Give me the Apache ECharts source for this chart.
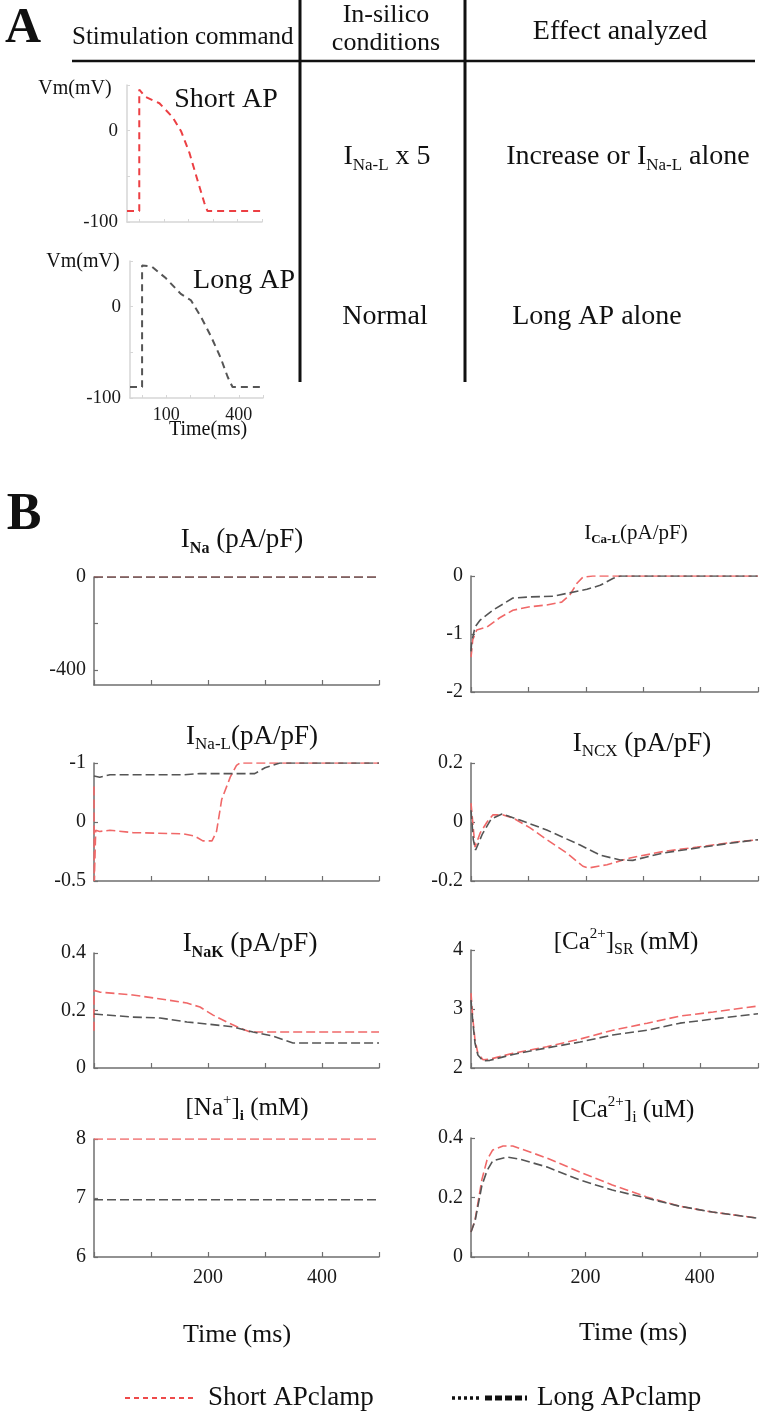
<!DOCTYPE html>
<html><head><meta charset="utf-8">
<script src="https://cdn.jsdelivr.net/npm/echarts@6/dist/echarts.min.js"></script>
<style>html,body{margin:0;padding:0;background:#fff}#c{width:760px;height:1415px}</style>
</head><body><div id="c"></div>
<script>
// ---------- Panel A : clamp commands (time ms, Vm mV) ----------
const apShort = [[-50,-88],[0,-88],[0,45],[25,37],[82,30],[135,15],[171,-1],[204,-24],[237,-54],[265,-79],[278,-88],[500,-88]];
const apLong  = [[-50,-88],[0,-88],[0,45],[40,44],[99,31],[160,14],[202,7],[243,-11],[284,-32],[325,-56],[354,-77],[374,-88],[500,-88]];
const apTimeTicks = [0,100,200,300,400,500];
const apTimeLabels = [100,400];
const apVmLabels = [0,-100];

// ---------- Panel B : time courses (time ms, value) ----------
const inaShort = [[0,0],[500,0]];
const inaLong  = [[0,0],[500,0]];
// I_Na-L plotted on internal scale -0.5..0.5, tick labels as printed
const inalShort = [[0,0.3],[0.5,-0.5],[3,-0.07],[10,-0.08],[28,-0.07],[68,-0.09],[156,-0.1],[177,-0.12],[191,-0.16],[207,-0.16],[215,-0.08],[224,0.19],[239,0.38],[250,0.48],[256,0.5],[500,0.5]];
const inalLong  = [[0,0.39],[10,0.38],[28,0.4],[156,0.4],[186,0.41],[282,0.41],[300,0.46],[326,0.5],[500,0.5]];
const inalTickLabels = ['-0.5','0','-1'];
const icalShort = [[0,-1.4],[1,-1.31],[3,-1.1],[10,-0.93],[28,-0.88],[50,-0.72],[73,-0.59],[103,-0.53],[132,-0.5],[158,-0.45],[172,-0.33],[185,-0.12],[195,-0.02],[212,0],[500,0]];
const icalLong  = [[0,-1.3],[1,-1.15],[7,-0.88],[16,-0.76],[38,-0.59],[73,-0.38],[103,-0.36],[143,-0.35],[167,-0.3],[202,-0.23],[225,-0.16],[248,-0.04],[260,0],[500,0]];
const incxShort = [[0,0.064],[7,-0.085],[16,-0.037],[28,0],[38,0.024],[56,0.024],[73,0.014],[103,-0.02],[132,-0.06],[167,-0.105],[195,-0.15],[204,-0.156],[237,-0.145],[277,-0.122],[335,-0.1],[394,-0.085],[451,-0.07],[500,-0.06]];
const incxLong  = [[0,0.04],[4,-0.06],[8,-0.095],[20,-0.04],[35,0.01],[54,0.027],[85,0.007],[132,-0.027],[190,-0.078],[225,-0.112],[260,-0.129],[282,-0.13],[335,-0.105],[394,-0.088],[451,-0.072],[500,-0.06]];
const inakShort = [[0,0.13],[0,0.27],[10,0.264],[68,0.254],[128,0.237],[163,0.226],[186,0.212],[209,0.184],[233,0.16],[256,0.139],[274,0.125],[500,0.125]];
const inakLong  = [[0,0.188],[68,0.177],[116,0.174],[163,0.16],[198,0.153],[244,0.143],[279,0.125],[314,0.111],[349,0.087],[500,0.087]];
const casrShort = [[0,3.27],[3,2.86],[7,2.47],[12,2.25],[21,2.14],[33,2.15],[73,2.25],[132,2.36],[190,2.49],[247,2.64],[307,2.76],[364,2.88],[422,2.95],[500,3.05]];
const casrLong  = [[0,3.15],[3,2.8],[7,2.42],[12,2.22],[21,2.12],[33,2.13],[73,2.23],[132,2.34],[190,2.44],[247,2.56],[307,2.64],[364,2.76],[422,2.83],[500,2.92]];
const naiShort = [[0,8],[500,8]];
const naiLong  = [[0,6.97],[500,6.97]];
const caiShort = [[0,0.084],[7,0.124],[12,0.18],[19,0.26],[28,0.326],[38,0.36],[56,0.373],[73,0.373],[103,0.353],[132,0.333],[190,0.286],[247,0.242],[307,0.202],[364,0.171],[422,0.151],[500,0.131]];
const caiLong  = [[0,0.084],[7,0.12],[12,0.17],[19,0.24],[28,0.29],[38,0.323],[63,0.336],[85,0.329],[132,0.303],[190,0.259],[247,0.225],[307,0.198],[364,0.171],[422,0.151],[500,0.131]];
const timeLabelsB = [200,400];

// ---------- styles ----------
const SERIF = '"Liberation Serif","DejaVu Serif",serif';
const RED_A = '#ec3f43', GRAY_A = '#555555';
const RED_B = '#f06868', GRAY_B = '#555555';
const AX_B = '#6f6f6f', AX_A = '#d6d6d6';

const grids = [];
const xAxes = [];
const yAxes = [];
const series = [];

function addPanel(g, x, yCfg, sData, lData, sStyle) {
  const i = grids.length;
  grids.push({left: g[0], top: g[1], width: g[2], height: g[3], containLabel: false});
  xAxes.push(Object.assign({gridIndex: i, type: 'value', splitLine: {show: false}}, x));
  yAxes.push(Object.assign({gridIndex: i, type: 'value', splitLine: {show: false}}, yCfg));
  series.push({type: 'line', xAxisIndex: i, yAxisIndex: i, data: sData, symbol: 'none', silent: true, animation: false,
    lineStyle: {color: sStyle.red, width: sStyle.w, type: sStyle.dash}, z: 2});
  series.push({type: 'line', xAxisIndex: i, yAxisIndex: i, data: lData, symbol: 'none', silent: true, animation: false,
    lineStyle: {color: sStyle.gray, width: sStyle.w, type: sStyle.dash}, z: 3});
}

const labelB = {fontFamily: SERIF, fontSize: 20, color: '#1a1a1a'};
function xB(bottom) {
  return {min: 0, max: 500, interval: 100,
    axisLine: {show: true, onZero: false, lineStyle: {color: AX_B, width: 1.5}},
    axisTick: {show: true, inside: true, length: 5, lineStyle: {color: AX_B, width: 1.2}},
    axisLabel: Object.assign({show: bottom, margin: 11, formatter: v => timeLabelsB.indexOf(v) >= 0 ? String(v) : ''}, labelB)};
}
function yB(min, max, interval, fmt, extra) {
  return Object.assign({min, max, interval,
    axisLine: {show: true, onZero: false, lineStyle: {color: AX_B, width: 1.5}},
    axisTick: {show: true, inside: true, length: 4, lineStyle: {color: AX_B, width: 1.2}},
    axisLabel: Object.assign({margin: 8, formatter: fmt || (v => String(v))}, labelB)}, extra || {});
}
const stB = {red: RED_B, gray: GRAY_B, w: 1.6, dash: [9, 4]};
const stA = {red: RED_A, gray: GRAY_A, w: 2, dash: [7, 5]};

// Panel A axes
function xA(showLabels) {
  return {min: -50, max: 500,
    axisLine: {show: true, onZero: false, lineStyle: {color: AX_A, width: 1.5}},
    axisTick: {show: true, inside: true, length: 3, customValues: apTimeTicks, lineStyle: {color: AX_A}},
    axisLabel: {show: showLabels, customValues: apTimeLabels, margin: 8, fontFamily: SERIF, fontSize: 18, color: '#1a1a1a'}};
}
function yA() {
  return {min: -100, max: 50, interval: 50,
    axisLine: {show: true, onZero: false, lineStyle: {color: AX_A, width: 1.5}},
    axisTick: {show: true, inside: true, length: 3, lineStyle: {color: AX_A}},
    axisLabel: {margin: 9, fontFamily: SERIF, fontSize: 19, color: '#1a1a1a',
      formatter: v => apVmLabels.indexOf(v) >= 0 ? String(v) : ''}};
}
addPanel([127, 85, 135, 137], xA(false), yA(), apShort, [], stA);
addPanel([130, 261, 133, 137], xA(true), yA(), [], apLong, stA);

// Panel B
const LX = 94, LW = 285, RX = 471, RW = 287;
addPanel([LX, 577, LW, 108], xB(false), yB(-465, 0, 200, null, {
  axisTick: {show: true, inside: true, length: 4, customValues: [-400, -200, 0], lineStyle: {color: AX_B, width: 1.2}},
  axisLabel: Object.assign({margin: 8, customValues: [-400, 0]}, labelB)}), inaShort, inaLong, stB);
addPanel([RX, 576, RW, 116], xB(false), yB(-2, 0, 1), icalShort, icalLong, stB);
addPanel([LX, 763, LW, 118], xB(false), yB(-0.5, 0.5, 0.5, v => inalTickLabels[Math.round((v + 0.5) / 0.5)]), inalShort, inalLong, stB);
addPanel([RX, 763, RW, 118], xB(false), yB(-0.2, 0.2, 0.2), incxShort, incxLong, stB);
addPanel([LX, 953, LW, 115], xB(false), yB(0, 0.4, 0.2), inakShort, inakLong, stB);
addPanel([RX, 950, RW, 118], xB(false), yB(2, 4, 1), casrShort, casrLong, stB);
addPanel([LX, 1139, LW, 118], xB(true), yB(6, 8, 1), naiShort, naiLong, stB);
addPanel([RX, 1138, RW, 119], xB(true), yB(0, 0.4, 0.2), caiShort, caiLong, stB);

// ---------- texts ----------
function rich(base) {
  return {
    m: {fontFamily: SERIF, fontSize: base, fill: '#111', lineHeight: base + 6},
    s: {fontFamily: SERIF, fontSize: Math.round(base * 0.6), fontWeight: 'bold', fill: '#111', lineHeight: Math.round(base * 0.6), verticalAlign: 'bottom'},
    r: {fontFamily: SERIF, fontSize: Math.round(base * 0.62), fill: '#111', lineHeight: Math.round(base * 0.62), verticalAlign: 'bottom'},
    u: {fontFamily: SERIF, fontSize: Math.round(base * 0.6), fill: '#111', lineHeight: Math.round(base * 0.6), verticalAlign: 'top'}
  };
}
function T(x, y, text, size, align, extra) {
  return {type: 'text', x, y, silent: true, style: Object.assign({text, rich: rich(size), fontFamily: SERIF, fontSize: size, fill: '#111',
    align: align || 'center', verticalAlign: 'middle'}, extra || {})};
}
const graphics = [
  // table lines
  {type: 'line', silent: true, shape: {x1: 72, y1: 61, x2: 755, y2: 61}, style: {stroke: '#111', lineWidth: 2.5}},
  {type: 'line', silent: true, shape: {x1: 300, y1: 0, x2: 300, y2: 382}, style: {stroke: '#111', lineWidth: 3}},
  {type: 'line', silent: true, shape: {x1: 465, y1: 0, x2: 465, y2: 382}, style: {stroke: '#111', lineWidth: 3}},
  T(23, 29, 'A', 50, 'center', {fontWeight: 'bold', rich: null}),
  T(72, 37, '{m|Stimulation command}', 25, 'left'),
  T(386, 15, '{m|In-silico}', 26),
  T(386, 43, '{m|conditions}', 26),
  T(620, 32, '{m|Effect analyzed}', 28),
  T(387, 157, '{m|I}{r|Na-L}{m| x 5}', 28),
  T(628, 157, '{m|Increase or I}{r|Na-L}{m| alone}', 28),
  T(385, 317, '{m|Normal}', 28),
  T(597, 317, '{m|Long AP alone}', 28),
  T(226, 100, '{m|Short AP}', 28),
  T(244, 281, '{m|Long AP}', 28),
  T(75, 89, '{m|Vm(mV)}', 20),
  T(83, 262, '{m|Vm(mV)}', 20),
  T(208, 430, '{m|Time(ms)}', 20),
  T(24, 516, 'B', 52, 'center', {fontWeight: 'bold', rich: null}),
  // panel B titles
  T(242, 540, '{m|I}{s|Na}{m| (pA/pF)}', 27),
  T(636, 533, '{m|I}{s|Ca-L}{m|(pA/pF)}', 21),
  T(252, 737, '{m|I}{r|Na-L}{m|(pA/pF)}', 27),
  T(642, 744, '{m|I}{r|NCX}{m| (pA/pF)}', 27),
  T(250, 944, '{m|I}{s|NaK}{m| (pA/pF)}', 27),
  T(626, 942, '{m|[Ca}{u|2+}{m|]}{r|SR}{m| (mM)}', 25),
  T(247, 1108, '{m|[Na}{u|+}{m|]}{s|i}{m| (mM)}', 25),
  T(633, 1110, '{m|[Ca}{u|2+}{m|]}{r|i}{m| (uM)}', 25),
  T(237, 1335, '{m|Time (ms)}', 26),
  T(633, 1333, '{m|Time (ms)}', 26),
  // legend
  {type: 'line', silent: true, shape: {x1: 125, y1: 1398, x2: 195, y2: 1398}, style: {stroke: '#ee4a4a', lineWidth: 2, lineDash: [5, 4]}},
  T(208, 1398, '{m|Short APclamp}', 27, 'left'),
  {type: 'line', silent: true, shape: {x1: 452, y1: 1398, x2: 482, y2: 1398}, style: {stroke: '#111', lineWidth: 3.5, lineDash: [3, 3]}},
  {type: 'line', silent: true, shape: {x1: 485, y1: 1398, x2: 527, y2: 1398}, style: {stroke: '#111', lineWidth: 5, lineDash: [7, 3]}},
  T(537, 1398, '{m|Long APclamp}', 27, 'left')
];

const chart = echarts.init(document.getElementById('c'), null, {renderer: 'canvas'});
chart.setOption({
  animation: false,
  backgroundColor: '#fff',
  grid: grids, xAxis: xAxes, yAxis: yAxes, series,
  graphic: graphics
});
</script>
</body></html>
